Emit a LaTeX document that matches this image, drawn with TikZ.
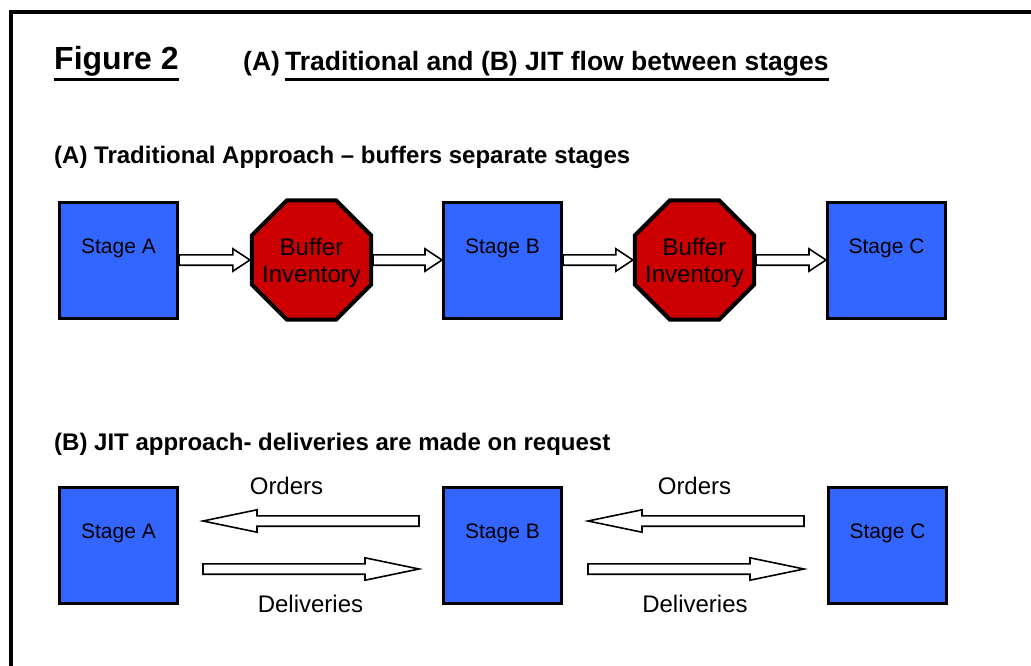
\documentclass[tikz,border=0pt]{standalone}
\usepackage{fontspec}
\setmainfont{Liberation Sans}
\usetikzlibrary{shapes.geometric,calc}

\definecolor{stageblue}{RGB}{51,102,255}
\definecolor{bufferred}{RGB}{204,0,0}

\tikzset{
  stagebox/.style={draw=black, line width=3pt, fill=stageblue,
    minimum width=118pt, minimum height=116pt, inner sep=0pt},
  stagelabel/.style={font=\fontsize{21}{25}\selectfont, inner sep=0pt, anchor=base},
  bufferoct/.style={regular polygon, regular polygon sides=8,
    draw=black, line width=4pt, fill=bufferred,
    minimum size=129pt, inner sep=0pt},
  bufferlabel/.style={align=center, inner sep=0pt,
    font=\fontsize{24}{26.5}\selectfont},
  flow/.style={draw=black, line width=1.6pt, fill=white, line join=miter},
  flowlabel/.style={font=\fontsize{24}{28}\selectfont, inner sep=0pt, anchor=base},
  heading/.style={font=\bfseries\fontsize{24}{28}\selectfont, anchor=base west, inner sep=0pt},
  titletext/.style={font=\bfseries\fontsize{26.5}{30}\selectfont, anchor=base west, inner sep=0pt},
  rule/.style={line width=3pt},
  frame/.style={line width=4.3pt}
}

% block arrow: #1 tail, #2 tip, #3 shaft half-height, #4 head half-height,
% #5 signed head length (positive when pointing right)
\newcommand\flowarrow[5]{%
  \draw[flow] let \p1=(#1), \p2=(#2) in
    (\x1,\y2+#3pt) -- (\x2-#5pt,\y2+#3pt) -- (\x2-#5pt,\y2+#4pt) -- (\x2,\y2)
    -- (\x2-#5pt,\y2-#4pt) -- (\x2-#5pt,\y2-#3pt) -- (\x1,\y2-#3pt) -- cycle;}

\begin{document}
\begin{tikzpicture}[x=1pt, y=-1pt]
\useasboundingbox (0,0) rectangle (1031,666);

% outer frame, running off the right and bottom edges
\draw[frame] (11,666) -- (11,12) -- (1031,12);

% title
\node[titletext, font=\bfseries\fontsize{32}{36}\selectfont] (fig) at (54,70) {Figure 2};
\draw[rule] ([yshift=-9.5pt]fig.base west) -- ([yshift=-9.5pt]fig.base east);
\node[titletext] (tA) at (243,71) {(A)};
\node[titletext] (tB) at (285,71) {Traditional and (B) JIT flow between stages};
\draw[rule] ([yshift=-8.5pt]tB.base west) -- ([yshift=-8.5pt]tB.base east);

% (A) traditional approach
\node[heading] (hA) at (54,164) {(A) Traditional Approach – buffers separate stages};

\node[stagebox] (a1) at (118.5,260.5) {};
\node[stagelabel] (a1t) at (118.5,253) {Stage A};
\node[bufferoct] (b1) at (311.5,260) {};
\node[bufferlabel] (b1t) at (311.5,263) {Buffer\\Inventory};
\node[stagebox] (s1) at (502.5,260.5) {};
\node[stagelabel] (s1t) at (502.5,253) {Stage B};
\node[bufferoct] (b2) at (694.5,260) {};
\node[bufferlabel] (b2t) at (694.5,263) {Buffer\\Inventory};
\node[stagebox] (c1) at (886.5,260.5) {};
\node[stagelabel] (c1t) at (886.5,253) {Stage C};

\flowarrow{a1.east |- b1.west}{b1.west}{5.2}{11.2}{17}
\flowarrow{b1.east}{s1.west |- b1.east}{5.2}{11.2}{17}
\flowarrow{s1.east |- b2.west}{b2.west}{5.2}{11.2}{17}
\flowarrow{b2.east}{c1.west |- b2.east}{5.2}{11.2}{17}

% (B) JIT approach
\node[heading] (hB) at (54,450) {(B) JIT approach- deliveries are made on request};

\node[stagebox] (a2) at (118.5,545.5) {};
\node[stagelabel] (a2t) at (118.5,538) {Stage A};
\node[stagebox] (s2) at (502.5,545.5) {};
\node[stagelabel] (s2t) at (502.5,538) {Stage B};
\node[stagebox] (c2) at (887.5,545.5) {};
\node[stagelabel] (c2t) at (887.5,538) {Stage C};

\coordinate (o1tail) at (419,521);
\coordinate (o1tip)  at (203,521);
\coordinate (d1tail) at (203,569);
\coordinate (d1tip)  at (419,569);
\coordinate (o2tail) at (804,521);
\coordinate (o2tip)  at (588,521);
\coordinate (d2tail) at (588,569);
\coordinate (d2tip)  at (804,569);

\flowarrow{o1tail}{o1tip}{5.2}{11.2}{-54}
\flowarrow{d1tail}{d1tip}{5.2}{11.2}{54}
\flowarrow{o2tail}{o2tip}{5.2}{11.2}{-54}
\flowarrow{d2tail}{d2tip}{5.2}{11.2}{54}

\node[flowlabel] (o1l) at (286.5,494) {Orders};
\node[flowlabel] (d1l) at (310.5,612) {Deliveries};
\node[flowlabel] (o2l) at (694.5,494) {Orders};
\node[flowlabel] (d2l) at (695,612) {Deliveries};
\end{tikzpicture}
\end{document}
